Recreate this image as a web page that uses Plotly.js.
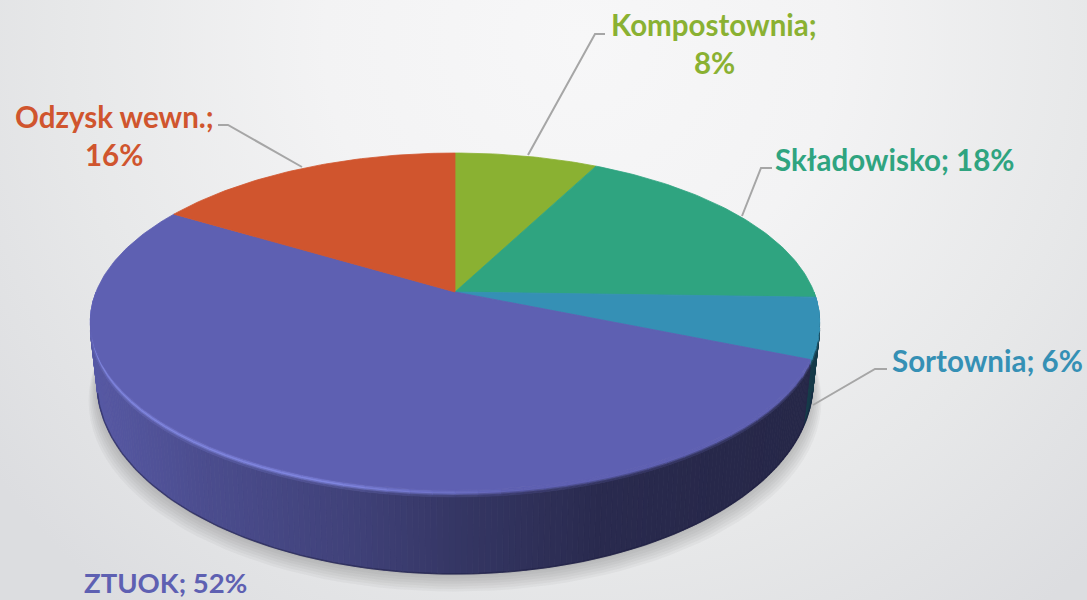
<!DOCTYPE html>
<html><head><meta charset="utf-8">
<script src="https://cdn.plot.ly/plotly-3.0.1.min.js"></script>
<style>html,body{margin:0;padding:0;background:#eee;overflow:hidden}#c{width:1087px;height:600px}</style>
</head><body><div id="c"></div>
<script>
const categories = ['Kompostownia','Składowisko','Sortownia','ZTUOK','Odzysk wewn.'];
const shares = [7.5,18,5.8,52.4,16.3];
const colors = ['#8ab132','#2fa480','#3590b5','#5e60b2','#d0552e'];
const wrapped = [true,false,false,false,true];
const labelX = [714,895,987,165,114];
const labelY = [24,159,360,582,116];
const labelSize = [29.5,29.5,29.5,27.5,29.5];
const leaderX = [[528,595,605],[742,761,772],[813,875,887],null,[302,228,218]];
const leaderY = [[155,34,34],[216,168,168],[405,369,369],null,[167,125,125]];
const APEX=[455,292], TILT=.175, A=359, B=163.3, BEVEL=7;
const hex=c=>[1,3,5].map(i=>parseInt(c.substr(i,2),16));
const mix=(a,b,t)=>a.map((v,i)=>v+(b[i]-v)*t);
const css=c=>'rgb('+c.map(v=>Math.round(v)).join(',')+')';
const P=deg=>{const r=deg*Math.PI/180,X=Math.sin(r),Y=Math.cos(r),d=1+TILT*Y;return [APEX[0]+A*X/d,APEX[1]-B*Y/d];};
const cum=[0];shares.forEach(s=>cum.push(cum[cum.length-1]+s*3.6));
const sliceAt=deg=>{for(let i=0;i<shares.length;i++) if(deg<cum[i+1]) return i;return shares.length-1;};
const poly=(xs,ys,fill,op)=>({type:'scatter',mode:'lines',x:xs,y:ys,fill:'toself',fillcolor:fill,opacity:op===undefined?1:op,
  line:{color:fill,width:op===undefined?.8:0},hoverinfo:'skip',showlegend:false});
const traces=[];
// soft shadow
for(let k=6;k>=0;k--){
  const xs=[],ys=[];
  for(let a=0;a<=360;a+=3){const r=a*Math.PI/180;xs.push(455+(358+1.4*k)*Math.sin(r));ys.push(385+2.6*k+(191)*Math.cos(r));}
  traces.push(poly(xs,ys,'#6b6d6d',.06));
}
// wall shade by screen x
const stops=[[90,.92],[200,.8],[350,.68],[450,.57],[600,.44],[700,.42],[830,.40]];
const shade=x=>{for(let i=1;i<stops.length;i++) if(x<=stops[i][0]){const t=(x-stops[i-1][0])/(stops[i][0]-stops[i-1][0]);return stops[i-1][1]+(stops[i][1]-stops[i-1][1])*Math.max(t,0);}return .4;};
let samples=[];for(let a=100;a<=260;a+=.8)samples.push(a);
cum.forEach(c=>{if(c>100&&c<260)samples.push(c);});samples.sort((a,b)=>a-b);
const bottomOf=(pt)=>{const u=Math.max(-1,Math.min(1,(pt[0]-455)/365));return [455+358*u,383+191*Math.sqrt(1-u*u)];};
const edgeX=[],edgeY=[];
for(let i=0;i<samples.length-1;i++){
  const a=samples[i],b=samples[i+1],mid=(a+b)/2,s=sliceAt(mid);
  const pa=P(a),pb=P(b),ba=bottomOf(pa),bb=bottomOf(pb);
  edgeX.push(ba[0]);edgeY.push(ba[1]);
  const col=mix(hex(colors[s]),[0,0,0],1-shade((pa[0]+pb[0])/2));
  traces.push(poly([pa[0],pb[0],bb[0],ba[0],pa[0]],[pa[1]+BEVEL,pb[1]+BEVEL,bb[1],ba[1],pa[1]+BEVEL],css(col)));
}
traces.push({type:'scatter',mode:'lines',x:edgeX,y:edgeY,line:{color:'rgba(25,25,60,.45)',width:1.5},hoverinfo:'skip',showlegend:false});
// bevel band
const bandN=5,hl=[127,133,224];
let bevelAngles=[];for(let a=90;a<=270;a+=3)bevelAngles.push(a);
cum.forEach(c=>{if(c>90&&c<270)bevelAngles.push(c);});bevelAngles.sort((a,b)=>a-b);
for(let i=0;i<bevelAngles.length-1;i++){
  const a=bevelAngles[i],b=bevelAngles[i+1],s=sliceAt((a+b)/2),pa=P(a),pb=P(b),x=(pa[0]+pb[0])/2;
  const base=hex(colors[s]),wall=mix(base,[0,0,0],1-shade(x));
  const h=Math.max(0,Math.min(1,(520-x)/180)),top=mix(base,hl,h);
  for(let k=0;k<bandN;k++){
    const t0=k/bandN,t1=(k+1)/bandN,t=(t0+t1)/2;
    const c=t<.5?mix(base,top,t/.5):mix(top,wall,(t-.5)/.5);
    traces.push(poly([pa[0],pb[0],pb[0],pa[0],pa[0]],
      [pa[1]+BEVEL*t0,pb[1]+BEVEL*t0,pb[1]+BEVEL*t1,pa[1]+BEVEL*t1,pa[1]+BEVEL*t0],css(c)));
  }
}
// top faces, from the shares
shares.forEach((v,i)=>{
  const xs=[APEX[0]],ys=[APEX[1]];
  for(let a=cum[i];;a+=1){const d=Math.min(a,cum[i+1]);const p=P(d);xs.push(p[0]);ys.push(p[1]);if(d>=cum[i+1])break;}
  xs.push(APEX[0]);ys.push(APEX[1]);
  traces.push(poly(xs,ys,colors[i]));
});
// leaders
leaderX.forEach((lx,i)=>{if(lx)traces.push({type:'scatter',mode:'lines',x:lx,y:leaderY[i],line:{color:'#a6a6a6',width:2},hoverinfo:'skip',showlegend:false});});
const annotations=[];
const note=(t,x,y,c,sz)=>annotations.push({text:'<b>'+t+'</b>',x,y,xref:'x',yref:'y',xanchor:'center',yanchor:'middle',showarrow:false,font:{family:'Lato, Carlito, sans-serif',size:sz,color:c}});
categories.forEach((c,i)=>{
  const pct=Math.round(shares[i])+'%';
  if(wrapped[i]){note(c+';',labelX[i],labelY[i],colors[i],labelSize[i]);note(pct,labelX[i],labelY[i]+38,colors[i],labelSize[i]);}
  else note(c+'; '+pct,labelX[i],labelY[i],colors[i],labelSize[i]);
});
// backdrop gradient
const cv=document.createElement('canvas');cv.width=1087;cv.height=600;
const g=cv.getContext('2d'),gr=g.createRadialGradient(580,40,0,580,40,730);
gr.addColorStop(0,'#f7f7f8');gr.addColorStop(.35,'#f3f3f4');gr.addColorStop(.7,'#e7e8e9');gr.addColorStop(1,'#dcdde0');
g.fillStyle=gr;g.fillRect(0,0,1087,600);
const layout={width:1087,height:600,margin:{l:0,r:0,t:0,b:0},showlegend:false,paper_bgcolor:'#eeeeef',plot_bgcolor:'rgba(0,0,0,0)',
  xaxis:{range:[0,1087],visible:false,fixedrange:true},
  yaxis:{range:[600,0],visible:false,fixedrange:true},
  annotations,
  images:[{source:cv.toDataURL('image/png'),xref:'x',yref:'y',x:0,y:0,sizex:1087,sizey:600,sizing:'stretch',xanchor:'left',yanchor:'top',layer:'below'}]};
Plotly.newPlot('c',traces,layout,{displayModeBar:false,staticPlot:true});
</script></body></html>
